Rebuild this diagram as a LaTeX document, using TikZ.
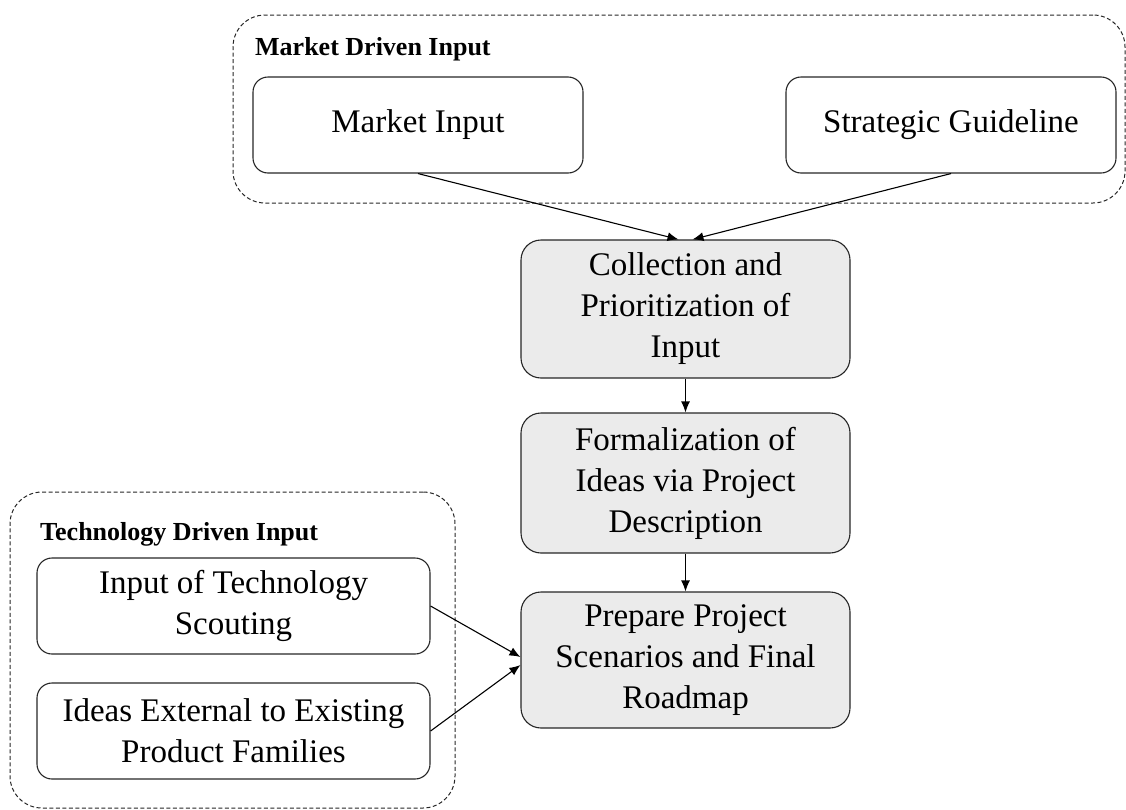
\documentclass[tikz,border=0pt]{standalone}
\usepackage{fontspec}
\setmainfont{Liberation Serif}
\usetikzlibrary{arrows.meta,calc}
\begin{document}
\begin{tikzpicture}[x=1pt,y=-1pt,
  box/.style={draw=black!85, line width=1.1pt, rounded corners=15pt, align=center, inner sep=0pt,
    font=\fontsize{33}{41}\selectfont, minimum width=330pt, minimum height=96pt},
  graybox/.style={box, fill=black!8, rounded corners=20pt},
  group/.style={draw=black!85, line width=1pt, dash pattern=on 4pt off 2.5pt, rounded corners=32pt, inner sep=0pt},
  grouplabel/.style={anchor=base west, inner sep=0pt, font=\fontsize{26}{30}\selectfont\bfseries},
  arr/.style={draw=black, line width=1.1pt, -{Latex[length=11pt,width=9pt]}}]
\useasboundingbox (0,0) rectangle (1126,809);
% groups
\node[group, minimum width=892pt, minimum height=188pt] (mgrp) at (679,109) {};
\node[group, minimum width=445pt, minimum height=316pt] (tgrp) at (232.5,650) {};
\node[grouplabel] (mlab) at (255,55) {Market Driven Input};
\node[grouplabel] (tlab) at (40,540) {Technology Driven Input};
% boxes
\node[box] (mi) at (418,125) {Market Input};
\node[box] (sg) at (951,125) {Strategic Guideline};
\node[graybox, minimum width=329pt, minimum height=138pt] (coll) at (685.5,309) {Collection and\\Prioritization of\\Input};
\node[graybox, minimum width=329pt, minimum height=140pt] (form) at (685.5,483) {Formalization of\\Ideas via Project\\Description};
\node[graybox, minimum width=329pt, minimum height=136pt] (prep) at (685.5,660) {Prepare Project\\Scenarios and Final\\Roadmap};
\node[box, minimum width=393pt] (its) at (233.5,606) {Input of Technology\\Scouting};
\node[box, minimum width=393pt] (ide) at (233.5,731) {Ideas External to Existing\\Product Families};
% connectors
\draw[arr] (mi.south) -- ($(coll.north)+(-7,0)$);
\draw[arr] (sg.south) -- ($(coll.north)+(7,0)$);
\draw[arr] (coll.south) -- (form.north);
\draw[arr] (form.south) -- (prep.north);
\draw[arr] (its.east) -- ($(prep.west)+(0,-3)$);
\draw[arr] (ide.east) -- ($(prep.west)+(0,5)$);
\end{tikzpicture}
\end{document}
